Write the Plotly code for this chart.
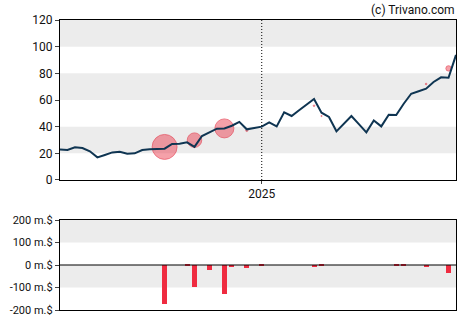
import pandas as pd
import plotly.graph_objects as go

# Weekly closing prices (USD), Wednesdays from 2024-06-26 to 2025-07-02
start_date = "2024-06-26"
prices = [
    22.9, 22.5, 24.5, 24.0, 21.5, 17.0, 18.8, 20.7, 21.2, 19.7,
    20.0, 22.5, 23.0, 23.2, 23.5, 27.0, 27.2, 28.2, 24.8, 33.0,
    35.7, 38.5, 38.7, 40.7, 43.6, 38.0, 39.0, 40.0, 43.2, 40.2,
    50.7, 48.0, 52.3, 56.5, 60.8, 50.5, 47.3, 36.5, 42.2, 48.0,
    41.9, 35.7, 44.7, 40.2, 49.0, 48.8, 57.2, 64.7, 66.6, 68.5,
    73.5, 77.0, 76.7, 93.8,
]
dates = pd.date_range(start_date, periods=len(prices), freq="7D")

# Insider transactions: week index, net value (million $)
flow_week = [14, 17, 18, 20, 22, 23, 25, 27, 34, 35, 45, 46, 49, 52]
flow_value = [-172, -6, -100, -24, -131, -11, -15, -6, -11, -6, -6, -6, -11, -37]

# Transactions shown on the price chart: week index, price, value (million $)
trade_week = [14, 18, 22, 25, 34, 35, 49, 52]
trade_price = [24.8, 29.9, 38.7, 37.2, 55.7, 48.0, 72.0, 83.7]
trade_value = [-172, -100, -131, -15, -11, -6, -11, -37]

price_ticks = [0, 20, 40, 60, 80, 100, 120]
flow_ticks = [-200, -100, 0, 100, 200]
flow_tick_text = [f"{v} m.$" for v in flow_ticks]
year_tick = ["2025-01-01"]
year_text = ["2025"]

x_range = [dates[0], dates[-1]]
FONT = "Roboto, Arial, sans-serif"
LINE = "#0f3552"
RED = "#ef2b40"

fig = go.Figure()

fig.add_trace(go.Scatter(
    x=[dates[i] for i in trade_week], y=trade_price,
    mode="markers", xaxis="x", yaxis="y",
    marker=dict(
        size=[max(abs(v) * 0.145, 1.2) for v in trade_value],
        sizemode="diameter",
        color="rgba(234,40,60,0.62)",
        line=dict(color="rgba(226,36,56,0.8)", width=1),
    ),
    hoverinfo="skip", showlegend=False,
))

fig.add_trace(go.Scatter(
    x=dates, y=prices, mode="lines", xaxis="x", yaxis="y",
    line=dict(color=LINE, width=2), showlegend=False,
))

fig.add_trace(go.Bar(
    x=[dates[i] for i in flow_week], y=flow_value,
    xaxis="x2", yaxis="y2",
    marker=dict(color=RED, line=dict(width=0)),
    width=4.7 * 86400000, showlegend=False,
))

shapes = []
for lo, hi in [(20, 40), (60, 80), (100, 120)]:
    shapes.append(dict(type="rect", xref="x domain", yref="y", x0=0, x1=1,
                       y0=lo, y1=hi, fillcolor="#ececec", line_width=0, layer="below"))
for lo, hi in [(100, 200), (-100, 0)]:
    shapes.append(dict(type="rect", xref="x2 domain", yref="y2", x0=0, x1=1,
                       y0=lo, y1=hi, fillcolor="#ececec", line_width=0, layer="below"))
shapes.append(dict(type="line", xref="x", yref="y domain", x0=year_tick[0], x1=year_tick[0],
                   y0=0, y1=1, line=dict(color="black", width=1, dash="1px,2px")))
shapes.append(dict(type="line", xref="x2 domain", yref="y2", x0=0, x1=1,
                   y0=0, y1=0, line=dict(color="black", width=1.2)))

axis_common = dict(showline=True, linecolor="black", linewidth=1.2, mirror=True,
                   showgrid=False, zeroline=False, automargin=False)

fig.update_layout(
    width=470, height=325,
    margin=dict(l=60, r=14, t=20, b=15, autoexpand=False),
    paper_bgcolor="white", plot_bgcolor="white",
    font=dict(family=FONT, color="#111", size=12),
    showlegend=False,
    shapes=shapes,
    xaxis=dict(domain=[0, 1], anchor="y", range=x_range, type="date",
               tickvals=year_tick, ticktext=year_text, ticks="outside", ticklen=3,
               tickfont=dict(size=12), **axis_common),
    yaxis=dict(domain=[0.4483, 1], anchor="x", range=[0, 120],
               tickvals=price_ticks, ticks="outside", ticklen=4,
               tickfont=dict(size=12), **axis_common),
    xaxis2=dict(domain=[0, 1], anchor="y2", range=x_range, type="date",
                matches="x", showticklabels=False, ticks="", **axis_common),
    yaxis2=dict(domain=[0, 0.3103], anchor="x2", range=[-200, 200],
                tickvals=flow_ticks, ticktext=flow_tick_text, ticks="outside", ticklen=4,
                tickfont=dict(size=11), **axis_common),
    annotations=[dict(text="(c) Trivano.com", xref="paper", yref="paper",
                      x=1.003, y=1, xanchor="right", yanchor="bottom", yshift=1,
                      showarrow=False, font=dict(family=FONT, size=12, color="#111"))],
    bargap=0,
)

fig.write_html("out.html")
